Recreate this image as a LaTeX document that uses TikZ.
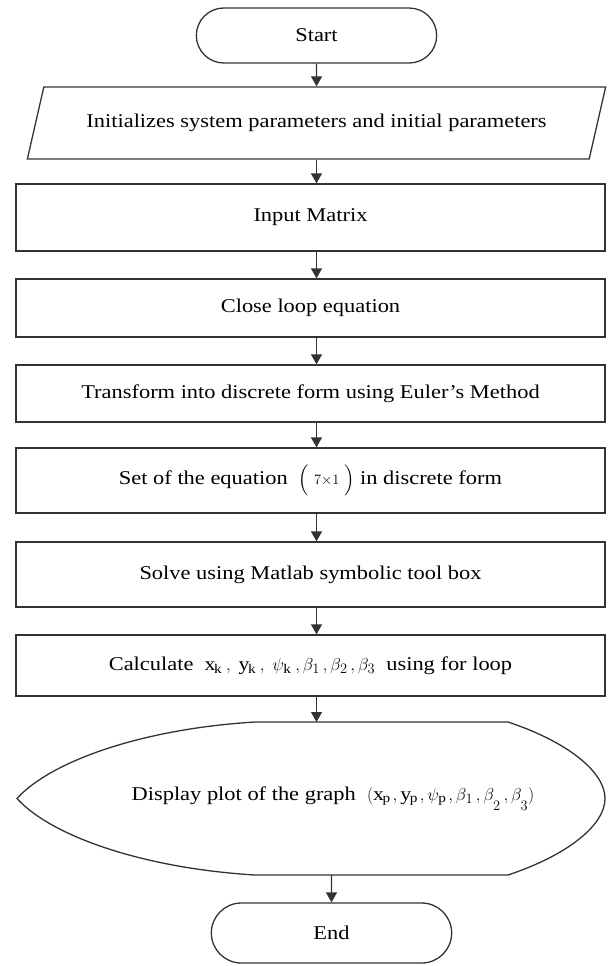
\documentclass[tikz,border=0pt]{standalone}
\usepackage{amsmath}
\usepackage{fontspec}
\setmainfont[FakeStretch=1.15]{Liberation Serif}
\usetikzlibrary{arrows.meta,shapes.geometric,shapes.misc}
\definecolor{flowline}{HTML}{333333}
\newcommand{\flowfont}{\fontsize{19.5}{23}\selectfont}
\newcommand{\mathsz}{\fontsize{19}{21}\selectfont}
\tikzset{
  flow/.style={-{Triangle[length=10pt,width=11pt]},line width=1.3pt,flowline},
  terminal/.style={draw=flowline,line width=1.3pt,rounded rectangle,minimum width=247pt,minimum height=55pt,font=\flowfont},
  iobox/.style={draw=flowline,line width=1.3pt,trapezium,trapezium left angle=60,trapezium right angle=120,trapezium stretches=true,minimum width=580pt,minimum height=72pt,font=\flowfont},
  procbox/.style={draw=flowline,line width=1.3pt,rectangle,minimum width=589pt,font=\flowfont},
  dispbox/.style={rectangle,outer sep=0pt,minimum height=153pt,font=\flowfont}
}

\begin{document}
\begin{tikzpicture}[x=1pt,y=-1pt]
  \useasboundingbox (0,0) rectangle (611,966);
  \node[terminal] (start) at (316.5,35.5) {Start};
  \node[iobox] (para) at (316.5,123) {Initializes system parameters and initial parameters};
  \node[procbox,minimum height=67pt] (input) at (310.5,217.5) {Input Matrix};
  \node[procbox,minimum height=58pt] (close) at (310.5,308) {Close loop equation};
  \node[procbox,minimum height=57pt] (trans) at (310.5,393.5) {Transform into discrete form using Euler’s Method};
  \node[procbox,minimum height=65pt] (seteq) at (310.5,480.5) {Set of the equation \ {\mathsz$\Bigl(\;{\scriptstyle 7\times 1}\;\Bigr)$} in discrete form};
  \node[procbox,minimum height=65pt] (solve) at (310.5,574.5) {Solve using Matlab symbolic tool box};
  \node[procbox,minimum height=61pt] (calc) at (310.5,665.5) {Calculate \ {\mathsz$\mathrm{x}_{\mathrm{k}}\;,\;\mathrm{y}_{\mathrm{k}}\;,\;\psi_{\mathrm{k}}\;,\beta_1\,,\beta_2\,,\beta_3$} \ using for loop};
  \node[dispbox] (disp) at (333,798.5) {Display plot of the graph \ {\mathsz$(\mathrm{x}_{\mathrm{p}}\,,\mathrm{y}_{\mathrm{p}}\,,\psi_{\mathrm{p}}\,,\beta_1\,,\beta_{\raisebox{-8pt}{$\scriptstyle 2$}}\,,\beta_{\raisebox{-8pt}{$\scriptstyle 3$}})$}};
  \node[terminal,minimum height=60pt] (finish) at (331.5,933) {End};
  % display outline
  \draw[line width=1.3pt,flowline] (255,722) -- (508,722)
    .. controls (568,742) and (605,772) .. (605,798.5)
    .. controls (605,825) and (568,855) .. (508,875) -- (255,875)
    .. controls (140,868) and (50,835) .. (17,798.5)
    .. controls (50,762) and (140,729) .. (255,722);
  % connectors
  \draw[flow] (start) -- (para);
  \foreach \a/\b in {para/input,input/close,close/trans,trans/seteq,seteq/solve,solve/calc,calc/disp}
    \draw[flow] (\a.south -| start) -- (\b.north -| start);
  \draw[flow] (disp.south -| finish) -- (finish);
\end{tikzpicture}
\end{document}
